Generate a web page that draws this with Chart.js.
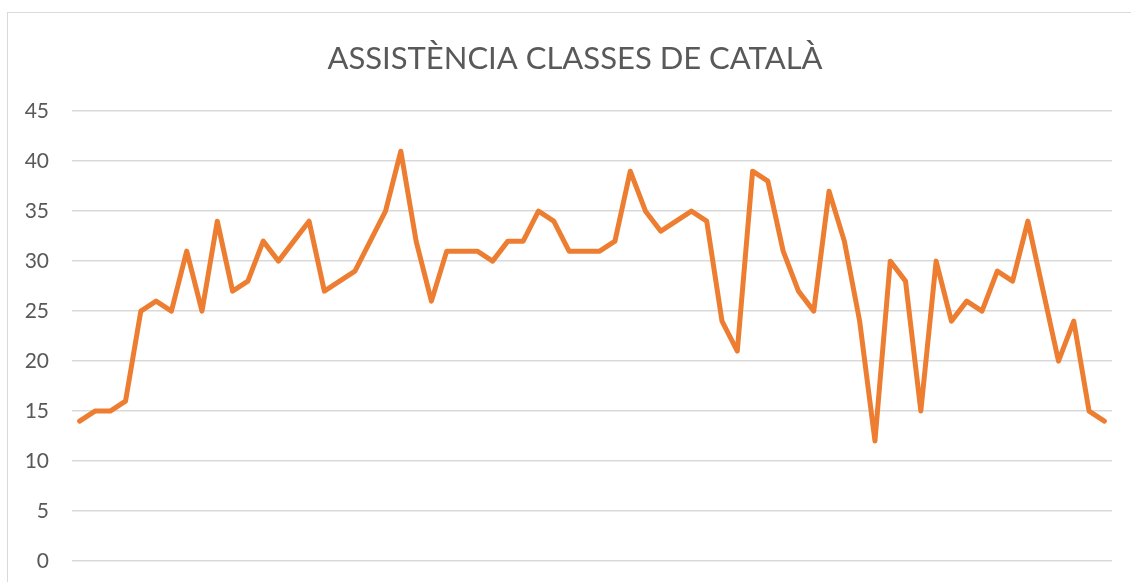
<!DOCTYPE html>
<html>
<head>
<meta charset="utf-8">
<script src="https://cdn.jsdelivr.net/npm/chart.js@4/dist/chart.umd.min.js"></script>
<style>
  html, body { margin: 0; padding: 0; background: #fff; overflow: hidden; width: 1131px; height: 582px; }
  #frame { position: absolute; left: 7px; top: 12px; width: 1300px; height: 800px; border-left: 1px solid #d9d9d9; border-top: 1px solid #d9d9d9; }
  #c { position: absolute; left: 0; top: 0; }
</style>
</head>
<body>
<div id="frame"></div>
<canvas id="c" width="1131" height="582"></canvas>
<script>
const titleText = 'ASSISTÈNCIA CLASSES DE CATALÀ';
const sessions = [1,2,3,4,5,6,7,8,9,10,11,12,13,14,15,16,17,18,19,20,21,22,23,24,25,26,27,28,29,30,31,32,33,34,
                  35,36,37,38,39,40,41,42,43,44,45,46,47,48,49,50,51,52,53,54,55,56,57,58,59,60,61,62,63,64,65,66,67,68];
const attendance = [14,15,15,16,25,26,25,31,25,34,27,28,32,30,32,34,27,28,29,32,35,41,32,26,31,31,31,30,32,32,35,34,
                    31,31,31,32,39,35,33,34,35,34,24,21,39,38,31,27,25,37,32,24,12,30,28,15,30,24,26,25,29,28,34,27,20,24,15,14];
const yTicks = [0,5,10,15,20,25,30,35,40,45];

new Chart(document.getElementById('c'), {
  type: 'line',
  data: {
    labels: sessions,
    datasets: [{
      data: attendance,
      yAxisID: 'y',
      borderColor: '#ED7D31',
      backgroundColor: '#ED7D31',
      borderWidth: 5,
      pointRadius: 0,
      tension: 0,
      borderJoinStyle: 'round',
      borderCapStyle: 'round',
      fill: false
    }]
  },
  options: {
    responsive: false,
    animation: false,
    devicePixelRatio: 1,
    layout: { padding: { left: 19, right: 0, top: 0, bottom: 21 } },
    plugins: {
      legend: { display: false },
      tooltip: { enabled: false },
      title: {
        display: true,
        text: titleText,
        color: '#595959',
        font: { family: 'Lato', size: 31, weight: 'normal' },
        lineHeight: 1.2,
        padding: { top: 40, bottom: 34 }
      }
    },
    scales: {
      x: { type: 'category', display: false, offset: true },
      y: {
        position: 'left',
        min: 0,
        max: 45,
        afterBuildTicks: s => { s.ticks = yTicks.map(v => ({ value: v })); },
        afterFit: s => { s.width = 53; s.paddingTop = 0; s.paddingBottom = 0; },
        border: { display: false },
        grid: { color: '#d9d9d9', lineWidth: 1.5, drawTicks: false },
        ticks: { color: '#595959', padding: 23, font: { family: 'Lato', size: 21 } }
      },
      yRight: {
        position: 'right',
        display: true,
        min: 0,
        max: 45,
        afterFit: s => { s.width = 19; s.paddingTop = 0; s.paddingBottom = 0; },
        border: { display: false },
        grid: { display: false, drawTicks: false },
        ticks: { display: false }
      }
    }
  }
});
</script>
</body>
</html>
